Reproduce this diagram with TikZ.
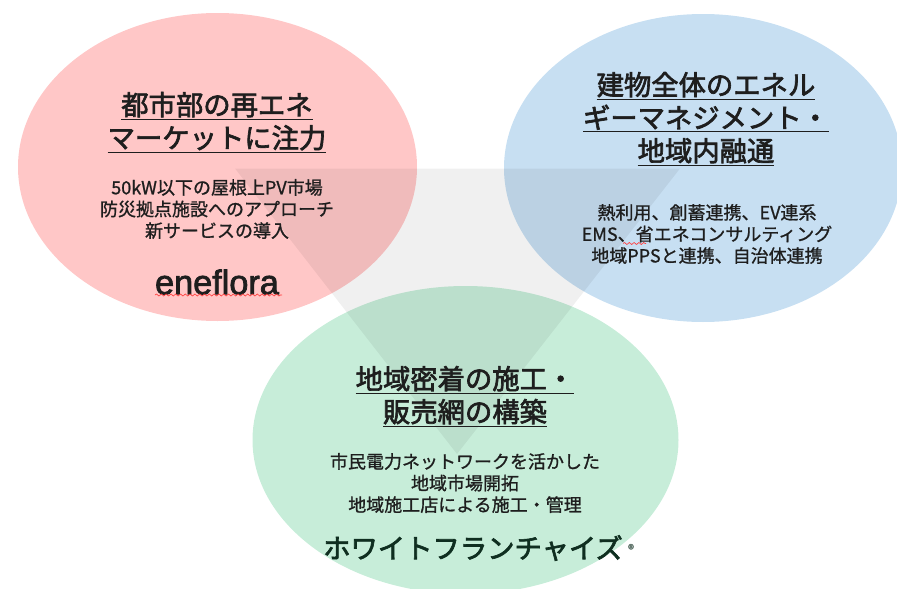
\documentclass[tikz,border=0pt]{standalone}
\usepackage{fontspec}
\setmainfont{Noto Sans CJK JP}[FakeBold=1]
\newfontfamily\headfont{Noto Sans CJK JP}[FakeBold=2.4]
\newfontfamily\brandfont{Liberation Sans}[FakeBold=2.2]
\usetikzlibrary{decorations.pathmorphing}
\definecolor{redoval}{RGB}{255,199,199}
\definecolor{blueoval}{RGB}{199,223,242}
\definecolor{greenoval}{RGB}{199,237,217}
\definecolor{inktext}{RGB}{30,30,30}
\definecolor{franchise}{RGB}{15,46,32}
\newcommand{\uline}[1]{\underline{#1}}
\tikzset{
  headtext/.style={inner sep=0pt,align=center,text=inktext,font=\fontsize{20.5}{24.75}\selectfont\headfont},
  bodytext/.style={inner sep=0pt,align=center,text=inktext,font=\fontsize{13.5}{16.2}\selectfont},
  squiggle/.style={draw=red!75!white,line width=0.5pt,decorate,decoration={snake,amplitude=0.75pt,segment length=3.6pt}}
}

\begin{document}
\begin{tikzpicture}[x=0.75pt,y=0.75pt,yscale=-1,xscale=1]
\useasboundingbox (0,0) rectangle (897,589);
%Shape: Ellipse
\fill [redoval] (217.5,167) ellipse (199.5 and 154);
%Shape: Ellipse
\fill [blueoval] (703,168) ellipse (199 and 154);
%Shape: Ellipse
\fill [greenoval] (465.5,440) ellipse (213 and 154);
%Shape: Triangle
\fill [black,opacity=0.06] (235,168.5) -- (680,168.5) -- (457,454) -- cycle;

% Text Node
\node [headtext] (redhead) at (217,122.5) {\uline{都市部の再エネ}\\\uline{マーケットに注力}};
% Text Node
\node [bodytext] (redbody) at (217,209) {50kW以下の屋根上PV市場\\防災拠点施設へのアプローチ\\新サービスの導入};
% Text Node
\node [inner sep=0pt,text=inktext,font=\fontsize{25.7}{28}\selectfont\brandfont] (eneflora) at (217,282) {eneflora};
\draw [squiggle] (155,295) -- (282,295);

% Text Node
\node [headtext] (bluehead) at (706,119) {\uline{建物全体のエネル}\\\uline{ギーマネジメント・}\\\uline{地域内融通}};
% Text Node
\node [bodytext] (bluebody) at (707,234) {熱利用、創蓄連携、EV連系\\EMS、省エネコンサルティング\\地域PPSと連携、自治体連携};
\draw [squiggle] (623,243.5) -- (646,243.5);

% Text Node
\node [headtext] (greenhead) at (465,396.5) {\uline{地域密着の施工・}\\\uline{販売網の構築}};
% Text Node
\node [bodytext] (greenbody) at (465,483) {市民電力ネットワークを活かした\\地域市場開拓\\地域施工店による施工・管理};
% Text Node
\node [inner sep=0pt,text=franchise,font=\fontsize{20.5}{24}\selectfont\headfont] (whitefc) at (473,548) {ホワイトフランチャイズ};
% Text Node
\node [inner sep=0pt,text=franchise!65!white,font=\fontsize{9.5}{10}\selectfont\headfont] (regmark) at (631,549) {®};
\end{tikzpicture}
\end{document}
